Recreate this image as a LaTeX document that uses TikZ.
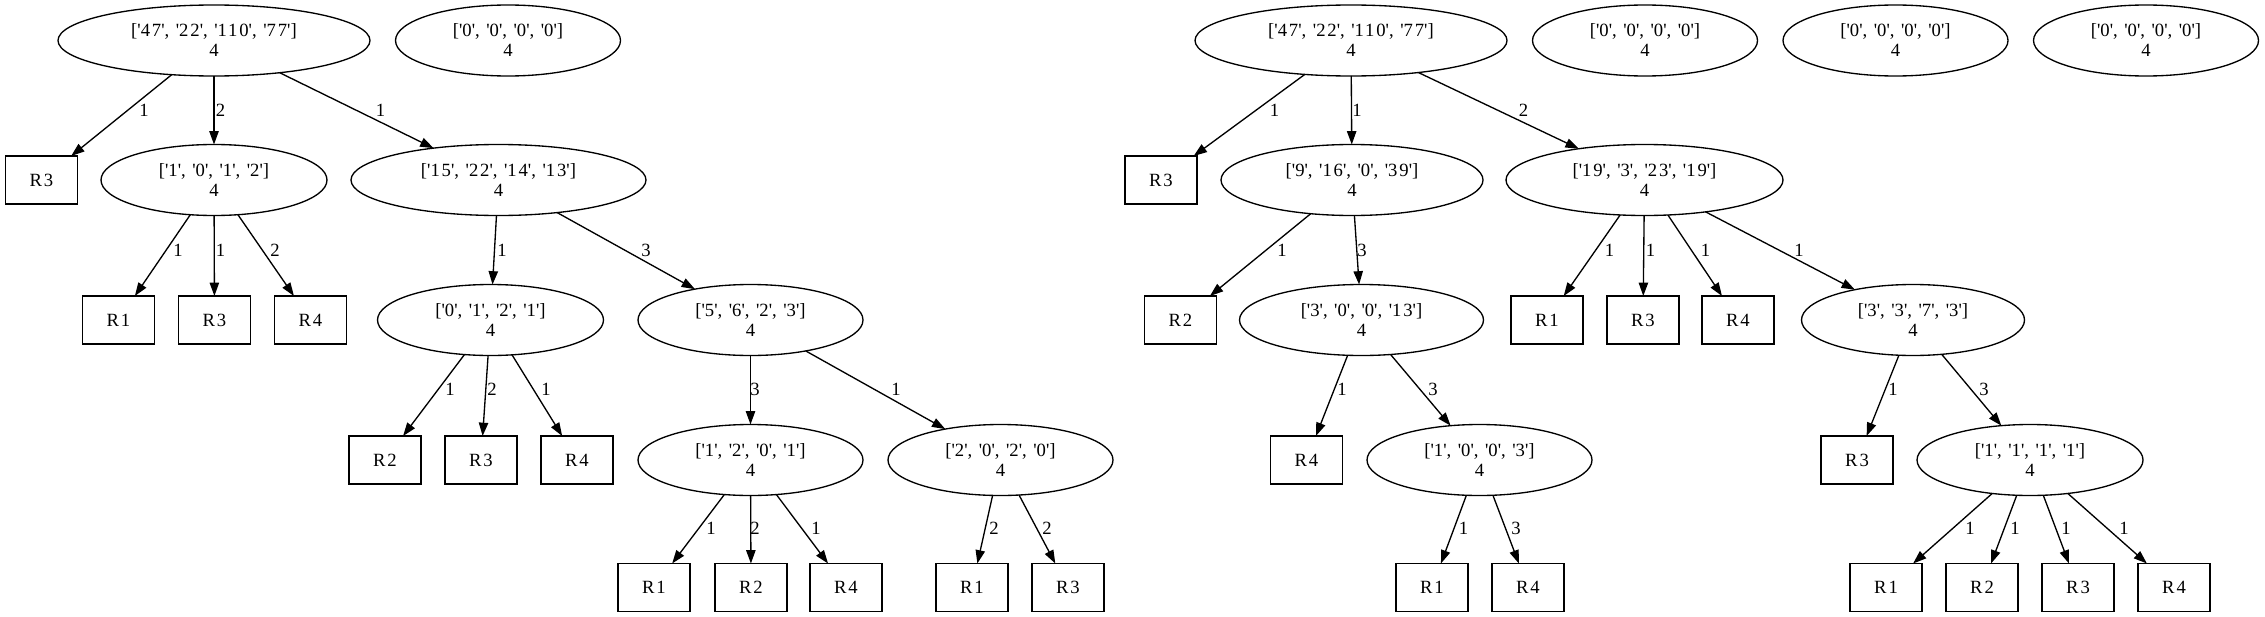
\documentclass[tikz,border=0pt]{standalone}
\usepackage{fontspec}
\setmainfont{Liberation Serif}[LetterSpace=10]
\usetikzlibrary{shapes.geometric,arrows.meta}
\newcommand\aps{\textquotesingle}
\newcommand\lst[4]{[\aps#1\aps, \aps#2\aps, \aps#3\aps, \aps#4\aps]\\4}
\tikzset{
  ell/.style={draw, ellipse, line width=1pt, inner sep=0pt, outer sep=0pt, minimum height=53.25pt, minimum width=#1, align=center, font=\fontsize{14pt}{15pt}\selectfont},
  bx/.style={draw, rectangle, line width=1pt, inner sep=0pt, outer sep=0pt, minimum width=54pt, minimum height=36pt, font=\fontsize{14pt}{15pt}\selectfont},
  edge/.style={draw, line width=1pt, -{Triangle[length=10pt,width=7pt]}},
  lbl/.style={inner sep=0pt, font=\fontsize{14pt}{15pt}\selectfont}
}
\begin{document}
\begin{tikzpicture}[x=0.75pt,y=-0.75pt]
\fill[white] (0,0) rectangle (2265,617);
\useasboundingbox (0,0) rectangle (2265,617);
% ---------- tree 1 ----------
\node[ell=234pt] (A0) at (214,40.5) {\lst{47}{22}{110}{77}};
\node[ell=168.75pt] (Z1) at (508,40.5) {\lst0000};
\node[bx] (A0r3) at (41.5,180) {R3};
\node[ell=169.5pt] (A1) at (214,180) {\lst1012};
\node[ell=221.25pt] (A2) at (498.5,180) {\lst{15}{22}{14}{13}};
\node[bx] (A1r1) at (118.5,320) {R1};
\node[bx] (A1r3) at (214.5,320) {R3};
\node[bx] (A1r4) at (310.5,320) {R4};
\node[ell=169.5pt] (A21) at (490.5,320) {\lst0121};
\node[ell=168.75pt] (A22) at (750.5,320) {\lst5623};
\node[bx] (A21r2) at (385,460) {R2};
\node[bx] (A21r3) at (481,460) {R3};
\node[bx] (A21r4) at (577,460) {R4};
\node[ell=168.75pt] (A221) at (750.5,460) {\lst1201};
\node[ell=168.75pt] (A222) at (1000.5,460) {\lst2020};
\node[bx] (A221r1) at (654,587.5) {R1};
\node[bx] (A221r2) at (751,587.5) {R2};
\node[bx] (A221r4) at (846,587.5) {R4};
\node[bx] (A222r1) at (972,587.5) {R1};
\node[bx] (A222r3) at (1068,587.5) {R3};
% ---------- tree 2 ----------
\node[ell=234pt] (B0) at (1351,40.5) {\lst{47}{22}{110}{77}};
\node[ell=168.75pt] (Z2) at (1645,40.5) {\lst0000};
\node[ell=168.75pt] (Z3) at (1895.5,40.5) {\lst0000};
\node[ell=168.75pt] (Z4) at (2146,40.5) {\lst0000};
\node[bx] (B0r3) at (1161,180) {R3};
\node[ell=196.5pt] (B1) at (1352,180) {\lst9{16}0{39}};
\node[ell=207.75pt] (B2) at (1644.5,180) {\lst{19}3{23}{19}};
\node[bx] (B1r2) at (1180.5,320) {R2};
\node[ell=183pt] (B11) at (1361.5,320) {\lst300{13}};
\node[bx] (B2r1) at (1547,320) {R1};
\node[bx] (B2r3) at (1643,320) {R3};
\node[bx] (B2r4) at (1738,320) {R4};
\node[ell=167.25pt] (B21) at (1913,320) {\lst3373};
\node[bx] (B11r4) at (1306.5,460) {R4};
\node[ell=168.75pt] (B111) at (1479.5,460) {\lst1003};
\node[bx] (B21r3) at (1857,460) {R3};
\node[ell=169.5pt] (B211) at (2030,460) {\lst1111};
\node[bx] (B111r1) at (1432,587.5) {R1};
\node[bx] (B111r4) at (1528,587.5) {R4};
\node[bx] (B211r1) at (1886,587.5) {R1};
\node[bx] (B211r2) at (1982,587.5) {R2};
\node[bx] (B211r3) at (2078,587.5) {R3};
\node[bx] (B211r4) at (2174,587.5) {R4};
% ---------- edges tree 1 ----------
\draw[edge] (A0) -- (A0r3);   \node[lbl] at (144,110) {1};
\draw[edge] (A0) -- (A1);     \node[lbl] at (220.5,110) {2};
\draw[edge] (A0) -- (A2);     \node[lbl] at (380.5,110) {1};
\draw[edge] (A1) -- (A1r1);   \node[lbl] at (178,250) {1};
\draw[edge] (A1) -- (A1r3);   \node[lbl] at (220.5,250) {1};
\draw[edge] (A1) -- (A1r4);   \node[lbl] at (275,250) {2};
\draw[edge] (A2) -- (A21);    \node[lbl] at (502,250) {1};
\draw[edge] (A2) -- (A22);    \node[lbl] at (646,250) {3};
\draw[edge] (A21) -- (A21r2); \node[lbl] at (450,389) {1};
\draw[edge] (A21) -- (A21r3); \node[lbl] at (492,389) {2};
\draw[edge] (A21) -- (A21r4); \node[lbl] at (546,389) {1};
\draw[edge] (A22) -- (A221);  \node[lbl] at (755,389) {3};
\draw[edge] (A22) -- (A222);  \node[lbl] at (896,389) {1};
\draw[edge] (A221) -- (A221r1); \node[lbl] at (711,528) {1};
\draw[edge] (A221) -- (A221r2); \node[lbl] at (755,528) {2};
\draw[edge] (A221) -- (A221r4); \node[lbl] at (816,528) {1};
\draw[edge] (A222) -- (A222r1); \node[lbl] at (994,528) {2};
\draw[edge] (A222) -- (A222r3); \node[lbl] at (1047,528) {2};
% ---------- edges tree 2 ----------
\draw[edge] (B0) -- (B0r3);   \node[lbl] at (1274.5,110) {1};
\draw[edge] (B0) -- (B1);     \node[lbl] at (1357,110) {1};
\draw[edge] (B0) -- (B2);     \node[lbl] at (1523.5,110) {2};
\draw[edge] (B1) -- (B1r2);   \node[lbl] at (1282,250) {1};
\draw[edge] (B1) -- (B11);    \node[lbl] at (1362,250) {3};
\draw[edge] (B2) -- (B2r1);   \node[lbl] at (1609.5,250) {1};
\draw[edge] (B2) -- (B2r3);   \node[lbl] at (1650.5,250) {1};
\draw[edge] (B2) -- (B2r4);   \node[lbl] at (1705.5,250) {1};
\draw[edge] (B2) -- (B21);    \node[lbl] at (1799,250) {1};
\draw[edge] (B11) -- (B11r4); \node[lbl] at (1342,389) {1};
\draw[edge] (B11) -- (B111);  \node[lbl] at (1433,389) {3};
\draw[edge] (B21) -- (B21r3); \node[lbl] at (1893,389) {1};
\draw[edge] (B21) -- (B211);  \node[lbl] at (1984,389) {3};
\draw[edge] (B111) -- (B111r1); \node[lbl] at (1463.5,528) {1};
\draw[edge] (B111) -- (B111r4); \node[lbl] at (1516,528) {3};
\draw[edge] (B211) -- (B211r1); \node[lbl] at (1970,528) {1};
\draw[edge] (B211) -- (B211r2); \node[lbl] at (2015,528) {1};
\draw[edge] (B211) -- (B211r3); \node[lbl] at (2066,528) {1};
\draw[edge] (B211) -- (B211r4); \node[lbl] at (2124,528) {1};
\end{tikzpicture}
\end{document}
